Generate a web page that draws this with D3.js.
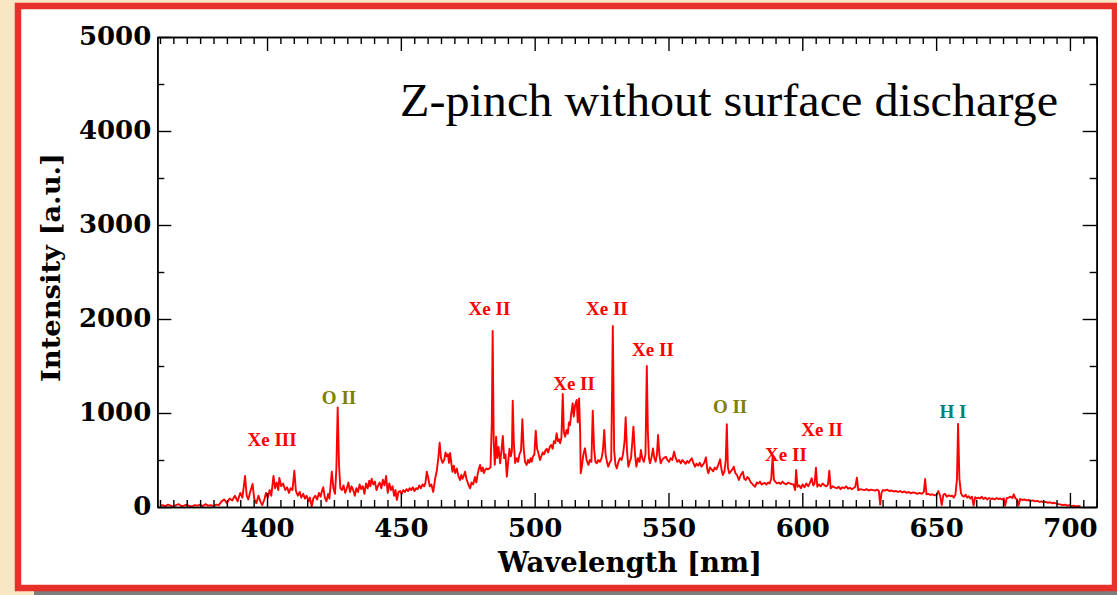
<!DOCTYPE html>
<html>
<head>
<meta charset="utf-8">
<script src="https://cdn.jsdelivr.net/npm/d3@7"></script>
<style>
  html, body { margin: 0; padding: 0; background: #f8e6c4; }
  svg { display: block; }
</style>
</head>
<body>
<svg id="chart" width="1117" height="595"></svg>
<script>
// ---------------- DATA ----------------
const title = "Z-pinch without surface discharge";
const xLabel = "Wavelength [nm]";
const yLabel = "Intensity [a.u.]";
const xDomain = [359, 710];
const yDomain = [0, 5000];
const xMajorTicks = [400, 450, 500, 550, 600, 650, 700];
const yMajorTicks = [0, 1000, 2000, 3000, 4000, 5000];

// spectrum: [wavelength nm, intensity a.u.]
const spectrumPoints = [
 [360,15],[361,20],[362,10],[363,25],[364,15],[365,5],[366,20],[367,30],[368,10],[369,15],
 [370,25],[371,10],[372,5],[373,20],[374,15],[375,25],[376,10],[377,30],[378,15],[379,20],
 [380,10],[381,25],[382,20],[383,60],[384,80],[385,40],[386,90],[387,70],[388,120],[389,60],
 [390,150],[390.8,100],[391.8,330],[392.4,120],[393,80],[393.6,150],[394.6,245],[395.2,90],[396,40],[396.8,120],
 [397.5,60],[398.2,20],[399,80],[399.6,150],[400.3,100],[401,180],[401.6,120],[402.4,330],[403,200],[403.6,260],
 [404.2,180],[404.6,310],[405.3,220],[406,250],[406.8,180],[407.5,210],[408.2,150],[408.8,200],[409.5,180],[410.2,385],
 [410.8,170],[411.5,120],[412.2,160],[412.8,100],[413.5,140],[414.2,90],[414.8,120],[415.5,60],[416,100],[416.7,5],
 [417.3,90],[418,120],[418.7,80],[419.4,150],[420,110],[420.6,180],[421,210],[421.6,100],[422.2,60],[422.8,140],
 [423.3,90],[424.2,375],[424.8,200],[425.4,140],[425.9,400],[426.4,1060],[426.9,450],[427.4,200],[428,180],[428.6,230],
 [429.2,150],[429.8,200],[430.4,260],[431,160],[431.6,220],[432.2,180],[432.8,120],[433.4,200],[434,160],[434.6,240],
 [435.2,190],[435.8,220],[436.4,140],[437,250],[437.6,200],[438.2,280],[438.6,220],[439.1,300],[439.7,240],[440.3,270],
 [440.9,180],[441.5,230],[442.1,260],[442.7,200],[443.3,290],[443.9,230],[444.5,330],[445.1,150],[445.7,250],[446.3,180],
 [446.9,220],[447.5,120],[448,180],[448.5,75],[449.1,160],[449.7,170],[450.3,140],[450.9,180],[451.5,160],[452.1,190],
 [452.7,170],[453.3,200],[453.9,180],[454.5,210],[455.1,170],[455.7,200],[456.3,190],[456.9,230],[457.5,200],[458.1,240],
 [458.7,220],[459.2,260],[459.7,375],[460.3,300],[460.8,220],[461.4,240],[462.1,160],[462.8,300],[463.4,380],[464,520],
 [464.5,685],[465,520],[465.6,470],[466.2,500],[466.7,580],[467.1,540],[467.6,560],[468,470],[468.4,575],[468.9,460],
 [469.3,375],[469.8,440],[470.3,360],[470.9,410],[471.5,330],[472.1,287],[472.6,340],[473,300],[473.5,330],[474,375],
 [474.5,300],[475,260],[475.5,220],[475.9,200],[476.4,260],[477,240],[477.7,320],[478.2,260],[478.7,350],[479.1,400],
 [479.6,447],[480.1,380],[480.6,420],[481,360],[481.5,394],[482,410],[482.5,400],[483,410],[483.5,420],[484,900],
 [484.3,1872],[484.7,700],[485.1,450],[485.6,748],[486,520],[486.5,640],[487.1,465],[487.6,600],[488.1,755],[488.6,520],
 [489.1,560],[489.6,322],[490.1,480],[490.6,620],[491.1,540],[491.5,600],[491.8,1130],[492.2,700],[492.7,468],[493.3,520],
 [493.8,480],[494.3,560],[494.9,600],[495.4,933],[495.9,620],[496.4,480],[497,447],[497.5,500],[498,470],[498.5,520],
 [498.9,482],[499.4,540],[499.9,560],[500.4,812],[500.9,620],[501.4,571],[502,500],[502.5,540],[503,580],[503.5,560],
 [504,600],[504.5,620],[505,580],[505.7,642],[506.2,660],[506.7,620],[507.2,700],[507.7,680],[508.2,784],[508.7,700],
 [509.1,720],[509.5,678],[510,740],[510.5,1202],[510.9,800],[511.4,748],[511.9,820],[512.4,780],[512.8,900],[513.2,872],
 [513.6,980],[514.2,1103],[514.6,961],[515.1,1080],[515.7,1138],[516.1,900],[516.6,1156],[517,800],[517.2,358],[517.6,420],
 [518.2,560],[518.8,624],[519.4,500],[520.1,447],[520.6,500],[521.2,480],[521.7,1025],[522.2,620],[522.7,480],[523.2,465],
 [523.8,500],[524.4,480],[525,520],[525.5,600],[526,819],[526.5,560],[527,480],[527.5,429],[528,470],[528.6,500],
 [529.2,1926],[529.7,600],[530.2,450],[530.7,411],[531.3,480],[531.9,520],[532.5,500],[533,560],[533.6,700],[534,954],
 [534.5,600],[535,429],[535.5,480],[536,520],[536.5,700],[536.9,855],[537.5,560],[538,429],[538.6,520],[539.2,480],
 [539.7,606],[540.2,520],[540.8,480],[541.4,560],[541.9,1500],[542.3,800],[542.7,520],[543.1,465],[543.6,520],[544.2,624],
 [544.7,520],[545.2,482],[545.7,560],[546.1,766],[546.6,560],[547.1,465],[547.6,500],[548.2,520],[549,535],[549.6,500],
 [550.2,480],[550.8,520],[551.4,500],[552.1,588],[552.7,520],[553.3,480],[553.9,500],[554.6,465],[555.2,500],[555.8,480],
 [556.4,460],[557,490],[557.6,470],[558.2,500],[558.7,518],[559.3,470],[559.9,429],[560.5,460],[561.1,440],[561.7,470],
 [562.3,430],[562.9,450],[563.5,480],[564,528],[564.5,400],[564.9,358],[565.5,420],[566.1,400],[566.7,380],[567.3,420],
 [567.9,400],[568.5,440],[569.3,507],[569.8,400],[570.3,340],[570.9,380],[571.4,500],[571.8,880],[572.2,420],[572.7,358],
 [573.3,380],[573.9,400],[574.4,429],[575,360],[575.6,340],[576.3,287],[577,340],[577.8,375],[578.3,300],[578.9,287],
 [579.5,320],[580.1,300],[580.8,260],[581.5,240],[582.4,216],[583,260],[583.6,250],[584.2,270],[584.8,240],[585.4,250],
 [586,255],[586.6,240],[587.2,260],[587.8,250],[588.4,300],[588.9,530],[589.4,290],[589.9,270],[590.5,250],[591.2,260],
 [591.9,245],[592.6,270],[593.3,250],[594,240],[594.7,260],[595.4,250],[596,245],[596.7,240],[597.3,180],[597.7,394],
 [598.2,216],[598.8,230],[599.5,200],[600.1,240],[600.8,210],[601.5,250],[602.2,220],[602.9,260],[603.5,305],[604.1,230],
 [604.6,250],[605.1,418],[605.6,216],[606.2,240],[606.9,220],[607.6,250],[608.3,230],[609,220],[609.6,240],[610.1,386],
 [610.6,199],[611.3,220],[612,210],[612.9,200],[613.6,215],[614.3,190],[615,210],[615.7,200],[616.4,220],[617.1,195],
 [617.8,205],[618.5,190],[619.1,200],[619.8,215],[620.4,312],[620.9,180],[621.6,190],[622.4,185],[623.2,180],[624,190],
 [624.8,175],[625.6,185],[626.4,180],[627.2,175],[628,185],[628.6,170],[629.1,25],[629.6,150],[630.1,180],[630.9,175],
 [631.7,185],[632.5,170],[633.3,175],[634.1,165],[635,170],[635.8,160],[636.6,170],[637.4,155],[638.2,165],[639,150],
 [639.8,160],[640.6,145],[641.4,155],[642.2,150],[643,140],[643.8,150],[644.6,140],[645.4,160],[645.9,298],[646.4,135],
 [647,140],[647.8,130],[648.6,135],[649.4,125],[650.2,128],[650.8,170],[651.5,120],[652.1,20],[652.7,130],[653.3,140],
 [654,110],[654.7,125],[655.4,115],[656,120],[656.6,100],[657.2,130],[657.8,300],[658.2,883],[658.7,300],[659.3,145],
 [659.8,120],[660.4,110],[661,130],[661.6,100],[662.2,115],[662.8,90],[663.4,110],[664,15],[664.6,105],[665.2,90],
 [665.8,100],[666.4,90],[667,110],[667.7,85],[668.4,100],[669.1,80],[669.8,95],[670.5,85],[671.2,90],[671.9,80],
 [672.6,95],[673.3,85],[674,90],[674.7,80],[675.3,92],[675.8,15],[676.4,95],[677.1,100],[677.8,110],[678.5,95],
 [679,135],[679.7,90],[680.3,80],[680.8,15],[681.4,85],[682.2,75],[683,80],[683.8,70],[684.6,75],[685.4,65],
 [686.2,70],[687,60],[687.8,65],[688.6,55],[689.4,60],[690.2,50],[691,55],[691.8,45],[692.6,50],[693.4,40],
 [694.2,45],[695,35],[695.8,30],[696.6,25],[697.4,20],[698.2,25],[699,15],[699.8,20],[700.6,10],[701.4,15],
 [702.2,5],[703,10],[704,5]
];

// line annotations: label, wavelength (centre of label), intensity (label baseline), colour
const annotLabels = ["Xe III","O II","Xe II","Xe II","Xe II","Xe II","O II","Xe II","Xe II","H I"];
const annotNm     = [401.9, 426.9, 483.1, 527.0, 514.7, 544.2, 573.0, 593.9, 607.4, 656.3];
const annotValue  = [649, 1096, 2043, 2043, 1245, 1606, 1000, 489, 755, 947];
const annotColor  = ["#ff0000","#808000","#ff0000","#ff0000","#ff0000","#ff0000","#808000","#ff0000","#ff0000","#008080"];

// ---------------- LAYOUT ----------------
const svg = d3.select("#chart");
const W = 1117, H = 595;
const plot = {left: 157.3, right: 1096.7, top: 37, bottom: 507};

// background frame
svg.append("rect").attr("x", 0).attr("y", 0).attr("width", W).attr("height", H).attr("fill", "#f8e6c4");
svg.append("rect").attr("x", 34).attr("y", 10).attr("width", W).attr("height", 585).attr("fill", "#7d7d7d");
svg.append("rect").attr("x", 18).attr("y", 6).attr("width", 1097).attr("height", 582)
   .attr("fill", "#ffffff").attr("stroke", "#e8302a").attr("stroke-width", 6.5);

const x = d3.scaleLinear().domain(xDomain).range([plot.left, plot.right]);
const y = d3.scaleLinear().domain(yDomain).range([plot.bottom, plot.top]);

const xMinor = d3.range(360, 711, 5).filter(v => !xMajorTicks.includes(v));
const yMinor = d3.range(500, 5000, 1000);

// clip
svg.append("clipPath").attr("id", "clip").append("rect")
   .attr("x", plot.left).attr("y", plot.top)
   .attr("width", plot.right - plot.left).attr("height", plot.bottom - plot.top);

// spectrum
const line = d3.line().x(d => x(d[0])).y(d => y(d[1]));
svg.append("path").datum(spectrumPoints)
   .attr("clip-path", "url(#clip)")
   .attr("fill", "none").attr("stroke", "#ff0000").attr("stroke-width", 1.9)
   .attr("stroke-linejoin", "round")
   .attr("d", line);

// axes
const tickFont = "'DejaVu Serif', serif";
function styleAxis(g) {
  g.selectAll("path.domain").attr("stroke", "#000").attr("stroke-width", 1.6);
  g.selectAll(".tick line").attr("stroke", "#000").attr("stroke-width", 1.4);
}
// bottom
svg.append("g").attr("transform", `translate(0,${plot.bottom})`)
   .call(d3.axisBottom(x).tickValues(xMinor).tickSizeInner(-7).tickSizeOuter(0).tickFormat(""))
   .call(styleAxis);
const gxb = svg.append("g").attr("transform", `translate(0,${plot.bottom})`)
   .call(d3.axisBottom(x).tickValues(xMajorTicks).tickSizeInner(-14).tickSizeOuter(0)
         .tickPadding(12).tickFormat(d3.format("d")))
   .call(styleAxis);
gxb.selectAll("text").attr("font-family", tickFont).attr("font-weight", "bold")
   .attr("font-size", 26).attr("fill", "#000");
// top
svg.append("g").attr("transform", `translate(0,${plot.top})`)
   .call(d3.axisTop(x).tickValues(xMinor).tickSizeInner(-7).tickSizeOuter(0).tickFormat(""))
   .call(styleAxis);
svg.append("g").attr("transform", `translate(0,${plot.top})`)
   .call(d3.axisTop(x).tickValues(xMajorTicks).tickSizeInner(-14).tickSizeOuter(0).tickFormat(""))
   .call(styleAxis);
// left
svg.append("g").attr("transform", `translate(${plot.left},0)`)
   .call(d3.axisLeft(y).tickValues(yMinor).tickSizeInner(-7).tickSizeOuter(0).tickFormat(""))
   .call(styleAxis);
const gyl = svg.append("g").attr("transform", `translate(${plot.left},0)`)
   .call(d3.axisLeft(y).tickValues(yMajorTicks).tickSizeInner(-14).tickSizeOuter(0)
         .tickPadding(6).tickFormat(d3.format("d")))
   .call(styleAxis);
gyl.selectAll("text").attr("font-family", tickFont).attr("font-weight", "bold")
   .attr("font-size", 26).attr("fill", "#000").attr("dy", "0.3em");
// right
svg.append("g").attr("transform", `translate(${plot.right},0)`)
   .call(d3.axisRight(y).tickValues(yMinor).tickSizeInner(-7).tickSizeOuter(0).tickFormat(""))
   .call(styleAxis);
svg.append("g").attr("transform", `translate(${plot.right},0)`)
   .call(d3.axisRight(y).tickValues(yMajorTicks).tickSizeInner(-14).tickSizeOuter(0).tickFormat(""))
   .call(styleAxis);

// axis titles
svg.append("text").attr("x", 630).attr("y", 572)
   .attr("text-anchor", "middle").attr("font-family", tickFont).attr("font-weight", "bold")
   .attr("font-size", 28).attr("textLength", 264).attr("lengthAdjust", "spacingAndGlyphs")
   .text(xLabel);
svg.append("text").attr("transform", "translate(60,267.5) rotate(-90)")
   .attr("text-anchor", "middle").attr("font-family", tickFont).attr("font-weight", "bold")
   .attr("font-size", 26).attr("textLength", 229).attr("lengthAdjust", "spacingAndGlyphs")
   .text(yLabel);

// title
svg.append("text").attr("x", 400).attr("y", 116)
   .attr("font-family", "'Liberation Serif', 'Times New Roman', serif")
   .attr("font-size", 47).attr("textLength", 658).attr("lengthAdjust", "spacingAndGlyphs")
   .text(title);

// annotations
svg.append("g").selectAll("text").data(annotLabels).join("text")
   .attr("x", (d, i) => x(annotNm[i]))
   .attr("y", (d, i) => y(annotValue[i]))
   .attr("text-anchor", "middle")
   .attr("font-family", "'Liberation Serif', serif").attr("font-weight", "bold")
   .attr("font-size", 19)
   .attr("fill", (d, i) => annotColor[i])
   .text(d => d);
</script>
</body>
</html>
